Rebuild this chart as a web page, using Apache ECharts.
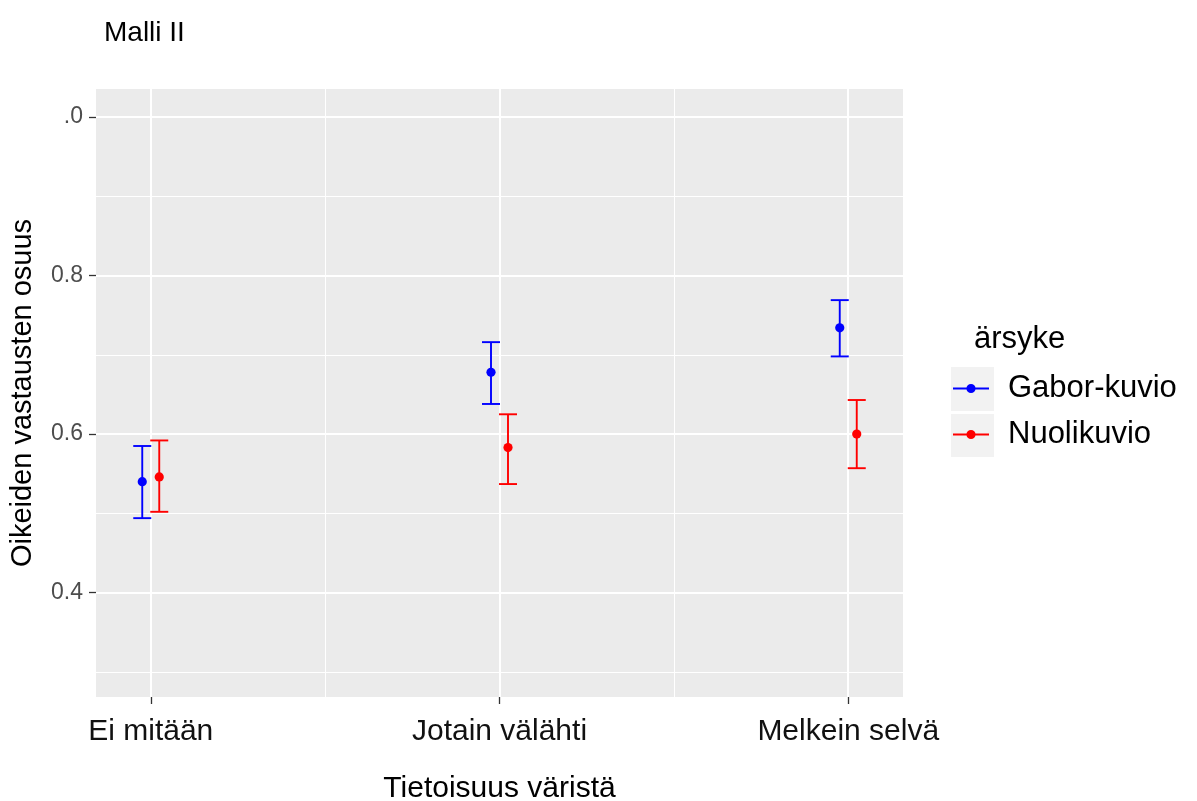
<!DOCTYPE html>
<html>
<head>
<meta charset="utf-8">
<script src="https://cdn.jsdelivr.net/npm/echarts@6/dist/echarts.min.js"></script>
<style>
html,body{margin:0;padding:0;background:#fff;}
#chart{width:1197px;height:801px;}
</style>
</head>
<body>
<div id="chart"></div>
<script>
// ---- data ----
var categories = ['Ei mitään', 'Jotain välähti', 'Melkein selvä'];
var seriesNames = ['Gabor-kuvio', 'Nuolikuvio'];
var gaborMean = [0.540, 0.678, 0.734];
var gaborLow  = [0.494, 0.638, 0.698];
var gaborHigh = [0.585, 0.716, 0.769];
var nuoliMean = [0.546, 0.583, 0.600];
var nuoliLow  = [0.502, 0.537, 0.557];
var nuoliHigh = [0.592, 0.625, 0.643];
var yTickValues = [0.4, 0.6, 0.8, 1.0];
var yTickLabels = ['0.4', '0.6', '0.8', '.0'];
var yMinorValues = [0.3, 0.5, 0.7, 0.9];
var xMinorValues = [0.5, 1.5];
var plotTitle = 'Malli II';
var xTitle = 'Tietoisuus väristä';
var yTitle = 'Oikeiden vastausten osuus';
var legendTitle = 'ärsyke';

// ---- style constants ----
var FONT = '"Liberation Sans", Arial, sans-serif';
var DODGE_PX = 8.5;
var CAP_PX = 9;
var PT_R = 4.6;

function rows(mean, low, high) {
  return categories.map(function (c, i) { return [i, mean[i], low[i], high[i]]; });
}

function makeRender(dir, color) {
  return function (params, api) {
    var x = api.value(0);
    var pm = api.coord([x, api.value(1)]);
    var pl = api.coord([x, api.value(2)]);
    var ph = api.coord([x, api.value(3)]);
    var cx = pm[0] + dir * DODGE_PX;
    var ls = { stroke: color, lineWidth: 1.9 };
    return {
      type: 'group',
      children: [
        { type: 'line', shape: { x1: cx, y1: pl[1], x2: cx, y2: ph[1] }, style: ls },
        { type: 'line', shape: { x1: cx - CAP_PX, y1: ph[1], x2: cx + CAP_PX, y2: ph[1] }, style: ls },
        { type: 'line', shape: { x1: cx - CAP_PX, y1: pl[1], x2: cx + CAP_PX, y2: pl[1] }, style: ls },
        { type: 'circle', shape: { cx: cx, cy: pm[1], r: PT_R }, style: { fill: color } }
      ]
    };
  };
}

var gridLines = [];
categories.forEach(function (c, i) { gridLines.push({ xAxis: i, lineStyle: { width: 2 } }); });
xMinorValues.forEach(function (v) { gridLines.push({ xAxis: v, lineStyle: { width: 1 } }); });
yTickValues.forEach(function (v) { gridLines.push({ yAxis: v, lineStyle: { width: 2 } }); });
yMinorValues.forEach(function (v) { gridLines.push({ yAxis: v, lineStyle: { width: 1 } }); });

var legendIcon = 'path://M0,3.6L36,3.6L36,5.4L0,5.4Z M22.6,4.5A4.6,4.5 0 1 1 13.4,4.5A4.6,4.5 0 1 1 22.6,4.5Z';

var chart = echarts.init(document.getElementById('chart'), null, { renderer: 'canvas' });
chart.setOption({
  animation: false,
  backgroundColor: '#ffffff',
  textStyle: { fontFamily: FONT },
  title: {
    text: plotTitle, left: 104, top: 19, padding: 0,
    textStyle: { fontFamily: FONT, fontSize: 28, fontWeight: 'normal', color: '#000' }
  },
  grid: {
    left: 96, top: 89, right: 294, bottom: 104,
    outerBoundsMode: 'none', containLabel: false,
    show: true, backgroundColor: '#ebebeb', borderWidth: 0
  },
  xAxis: {
    type: 'value', min: -0.157, max: 2.157,
    name: xTitle, nameLocation: 'middle', nameGap: 77,
    nameTextStyle: { fontFamily: FONT, fontSize: 30, color: '#000' },
    axisLine: { show: false, onZero: false },
    splitLine: { show: false },
    axisTick: { show: true, length: 7, customValues: [0, 1, 2], lineStyle: { color: '#333', width: 1.3 } },
    axisLabel: {
      customValues: [0, 1, 2], margin: 20,
      fontFamily: FONT, fontSize: 30, color: '#111',
      formatter: function (v) { return categories[Math.round(v)]; }
    }
  },
  yAxis: {
    type: 'value', min: 0.2684, max: 1.0353,
    name: yTitle, nameLocation: 'middle', nameGap: 59, nameRotate: 90,
    nameTextStyle: { fontFamily: FONT, fontSize: 29, color: '#000' },
    axisLine: { show: false, onZero: false },
    splitLine: { show: false },
    axisTick: { show: true, length: 7, customValues: yTickValues, lineStyle: { color: '#333', width: 1.3 } },
    axisLabel: {
      customValues: yTickValues, margin: 13,
      fontFamily: FONT, fontSize: 23, color: '#4d4d4d',
      formatter: function (v) {
        for (var i = 0; i < yTickValues.length; i++) {
          if (Math.abs(yTickValues[i] - v) < 1e-6) return yTickLabels[i];
        }
        return '';
      }
    }
  },
  legend: {
    data: seriesNames,
    orient: 'vertical',
    left: 953, top: 373, padding: 0,
    itemWidth: 36, itemHeight: 9, itemGap: 15,
    icon: legendIcon,
    textStyle: { fontFamily: FONT, fontSize: 31, color: '#000', padding: [0, 0, 0, 14] },
    selectedMode: false
  },
  graphic: [
    { type: 'rect', left: 951, top: 367, shape: { width: 43, height: 44 }, style: { fill: '#f2f2f2' }, z: -1 },
    { type: 'rect', left: 951, top: 414, shape: { width: 43, height: 43 }, style: { fill: '#f2f2f2' }, z: -1 },
    { type: 'text', left: 974, top: 324, style: { text: legendTitle, font: '31px ' + FONT, fill: '#000' } }
  ],
  series: [
    {
      type: 'line', data: [], silent: true, z: 1,
      markLine: {
        silent: true, symbol: 'none', z: 1,
        label: { show: false },
        lineStyle: { color: '#ffffff', type: 'solid' },
        data: gridLines
      }
    },
    {
      name: seriesNames[0], type: 'custom', z: 3,
      itemStyle: { color: '#0000ff' },
      encode: { x: 0, y: [1, 2, 3] },
      renderItem: makeRender(-1, '#0000ff'),
      data: rows(gaborMean, gaborLow, gaborHigh)
    },
    {
      name: seriesNames[1], type: 'custom', z: 3,
      itemStyle: { color: '#ff0000' },
      encode: { x: 0, y: [1, 2, 3] },
      renderItem: makeRender(1, '#ff0000'),
      data: rows(nuoliMean, nuoliLow, nuoliHigh)
    }
  ]
});
</script>
</body>
</html>
